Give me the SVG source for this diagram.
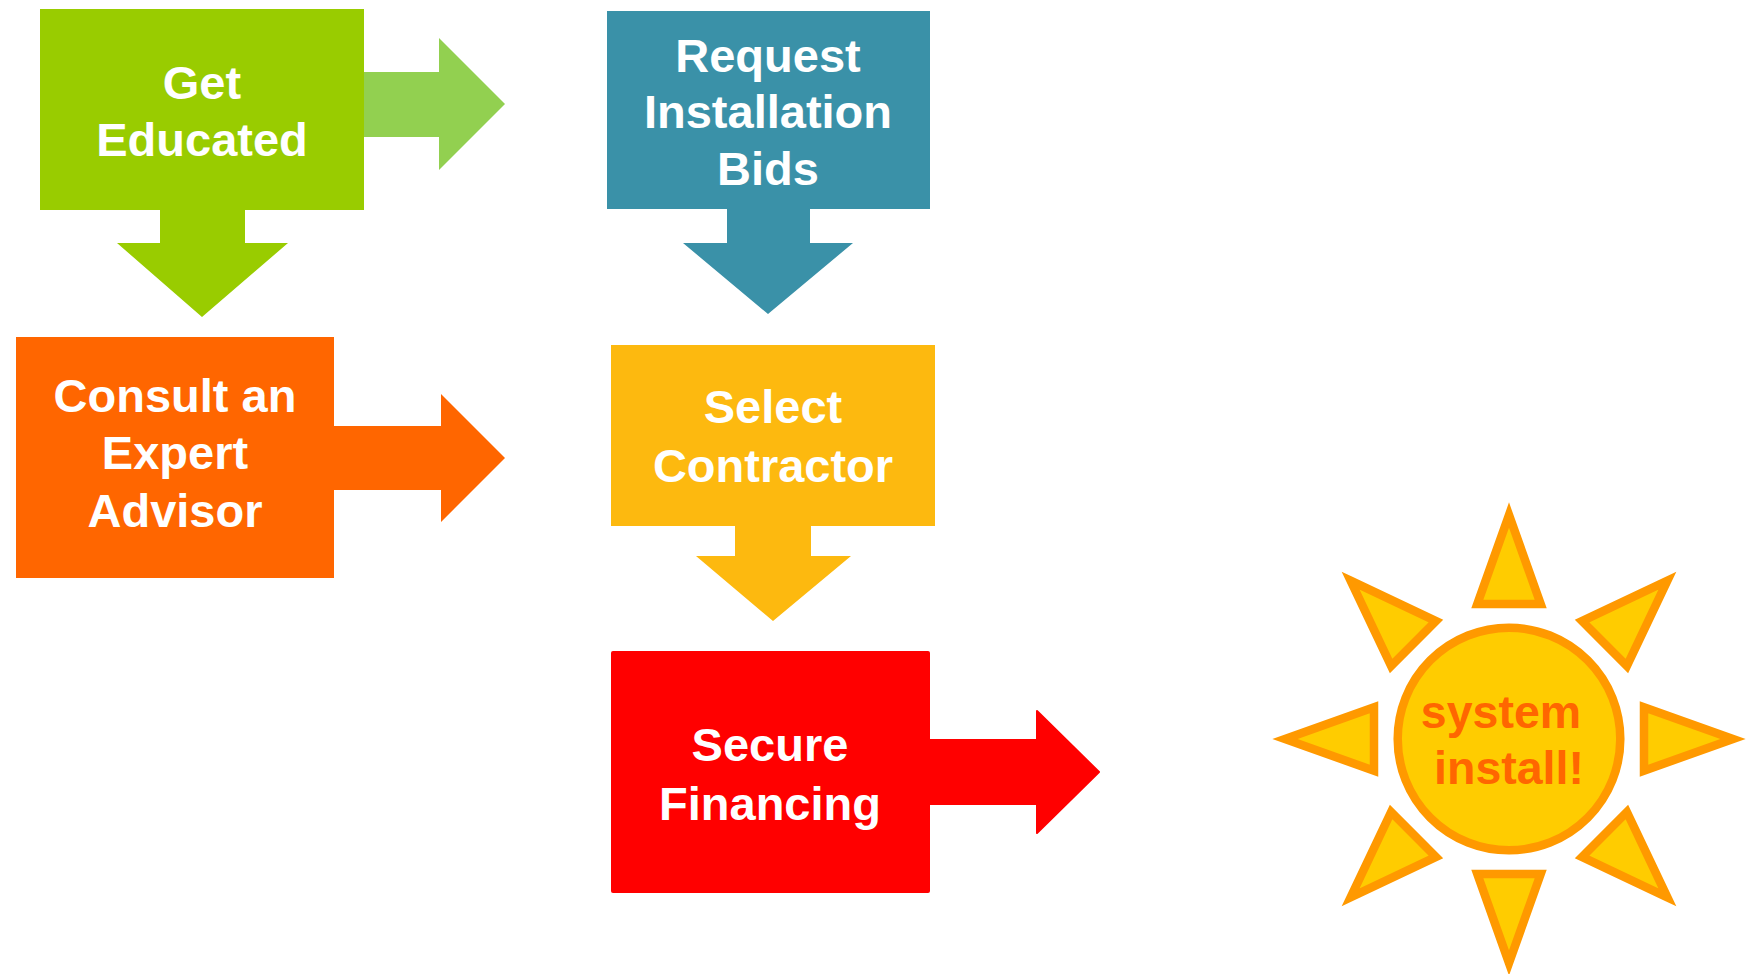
<svg xmlns="http://www.w3.org/2000/svg" width="1750" height="974" viewBox="0 0 1750 974">
<defs>
<style>
.lbl{font-family:"Liberation Sans",Arial,sans-serif;font-weight:bold;font-size:47px;fill:#FFFFFF;text-anchor:middle}
.sun{font-family:"Liberation Sans",Arial,sans-serif;font-weight:bold;font-size:46.5px;fill:#FF6600;text-anchor:middle}
.ray{fill:#FFCC00;stroke:#FF9900;stroke-width:8.5;stroke-linejoin:miter;stroke-miterlimit:10}
</style>
<polygon id="rayShape" points="0,-224 31.7,-135 -31.7,-135"/>
</defs>
<rect width="1750" height="974" fill="#FFFFFF"/>
<g id="connectors">
<path d="M361,72 H439 V38 L505,104 L439,170 V137 H361 Z" fill="#92D050"/>
<path d="M160,209 H245 V243 H288 L202,317 L117,243 H160 Z" fill="#99CC00"/>
<path d="M727,208 H810 V243 H853 L768,314 L683,243 H727 Z" fill="#3A91A8"/>
<path d="M333,426 H441 V394 L505,458 L441,522 V490 H333 Z" fill="#FF6600"/>
<path d="M735,525 H811 V556 H851 L773,621 L696,556 H735 Z" fill="#FDB90F"/>
<path d="M929,740 H1037 V711 L1099,772 L1037,833 V804 H929 Z" fill="#FF0000" stroke="#FF0000" stroke-width="2" stroke-linejoin="round"/>
</g>
<g id="get-educated">
<rect x="40" y="9" width="324" height="201" fill="#99CC00"/>
<text class="lbl" x="202" y="99">Get</text>
<text class="lbl" x="202" y="156">Educated</text>
</g>
<g id="request-bids">
<rect x="607" y="11" width="323" height="198" fill="#3A91A8"/>
<text class="lbl" x="768" y="72">Request</text>
<text class="lbl" x="768" y="128">Installation</text>
<text class="lbl" x="768" y="185">Bids</text>
</g>
<g id="consult-expert">
<rect x="16" y="337" width="318" height="241" fill="#FF6600"/>
<text class="lbl" x="175" y="412">Consult an</text>
<text class="lbl" x="175" y="469">Expert</text>
<text class="lbl" x="175" y="527">Advisor</text>
</g>
<g id="select-contractor">
<rect x="611" y="345" width="324" height="181" fill="#FDB90F"/>
<text class="lbl" x="773" y="423">Select</text>
<text class="lbl" x="773" y="482">Contractor</text>
</g>
<g id="secure-financing">
<rect x="611" y="651" width="319" height="242" rx="2" fill="#FF0000"/>
<text class="lbl" x="770" y="761">Secure</text>
<text class="lbl" x="770" y="820">Financing</text>
</g>
<g id="system-install">
<g transform="translate(1509,739)">
<use href="#rayShape" class="ray"/>
<use href="#rayShape" class="ray" transform="rotate(45)"/>
<use href="#rayShape" class="ray" transform="rotate(90)"/>
<use href="#rayShape" class="ray" transform="rotate(135)"/>
<use href="#rayShape" class="ray" transform="rotate(180)"/>
<use href="#rayShape" class="ray" transform="rotate(225)"/>
<use href="#rayShape" class="ray" transform="rotate(270)"/>
<use href="#rayShape" class="ray" transform="rotate(315)"/>
<circle cx="0" cy="0" r="111.3" fill="#FFCC00" stroke="#FF9900" stroke-width="8.5"/>
</g>
<text class="sun" x="1501" y="728">system</text>
<text class="sun" x="1509" y="784">install!</text>
</g>
</svg>
